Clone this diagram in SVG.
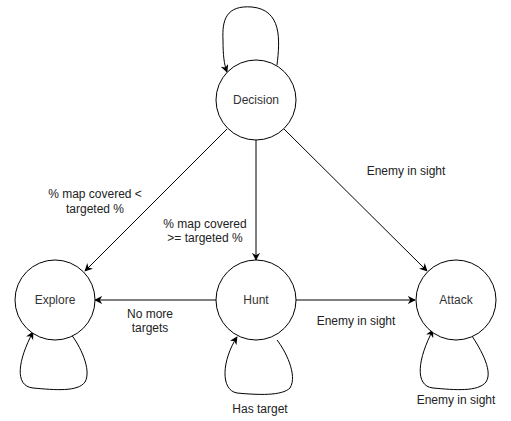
<svg xmlns="http://www.w3.org/2000/svg" width="511" height="421" viewBox="0 0 511 421">
<style>
.node{fill:#fff;stroke:#000;stroke-width:1}
.edge{fill:none;stroke:#000;stroke-width:1}
.nl{font-family:"Liberation Sans",Arial,sans-serif;font-size:12px;fill:#333;text-anchor:middle;dominant-baseline:central}
.el{font-family:"Liberation Sans",Arial,sans-serif;font-size:12px;fill:#222;text-anchor:middle;dominant-baseline:central}
</style>
<defs>
<marker id="arr" viewBox="0 0 10 10" refX="9" refY="5" markerWidth="8" markerHeight="8" markerUnits="userSpaceOnUse" orient="auto">
<path d="M0,0 L10,5 L0,10 L3,5 Z" fill="#000"/>
</marker>
</defs>
<rect width="511" height="421" fill="#fff"/>
<g id="connectors">
<path class="edge" marker-end="url(#arr)" d="M227,129 L85,271"/>
<path class="edge" marker-end="url(#arr)" d="M256,140 L256,260"/>
<path class="edge" marker-end="url(#arr)" d="M284,129 L427,271"/>
<path class="edge" marker-end="url(#arr)" d="M216,300 L95,300"/>
<path class="edge" marker-end="url(#arr)" d="M296,300 L415,300"/>
<path class="edge" marker-end="url(#arr)" d="M277,65 C280,40 282,10 252,7 C226,5 222,20 223,40 C223,55 224,64 227,72"/>
<path class="edge" marker-end="url(#arr)" d="M70,333 C80,345 92,370 85,382 C78,392 55,390 33,388 C14,386 18,360 33,332"/>
<path class="edge" marker-end="url(#arr)" d="M277,340 C285,350 298,375 290,388 C282,396 258,395 237,393 C220,390 222,360 237,337"/>
<path class="edge" marker-end="url(#arr)" d="M470,333 C478,345 494,370 486,382 C478,392 455,390 433,388 C414,386 418,358 433,330"/>
</g>
<g id="labels">
<text class="el" x="95" y="194">% map covered &lt;</text>
<text class="el" x="95" y="209">targeted %</text>
<text class="el" x="205" y="224">% map covered</text>
<text class="el" x="205" y="238">&gt;= targeted %</text>
<text class="el" x="406" y="171">Enemy in sight</text>
<text class="el" x="150" y="314">No more</text>
<text class="el" x="150" y="328">targets</text>
<text class="el" x="356" y="321">Enemy in sight</text>
<text class="el" x="260" y="409">Has target</text>
<text class="el" x="456" y="400">Enemy in sight</text>
</g>
<g id="decision"><circle class="node" cx="256" cy="100" r="40"/><text class="nl" x="256" y="100">Decision</text></g>
<g id="explore"><circle class="node" cx="55" cy="300" r="40"/><text class="nl" x="55" y="300">Explore</text></g>
<g id="hunt"><circle class="node" cx="256" cy="300" r="40"/><text class="nl" x="256" y="300">Hunt</text></g>
<g id="attack"><circle class="node" cx="456" cy="300" r="40"/><text class="nl" x="456" y="300">Attack</text></g>
</svg>
